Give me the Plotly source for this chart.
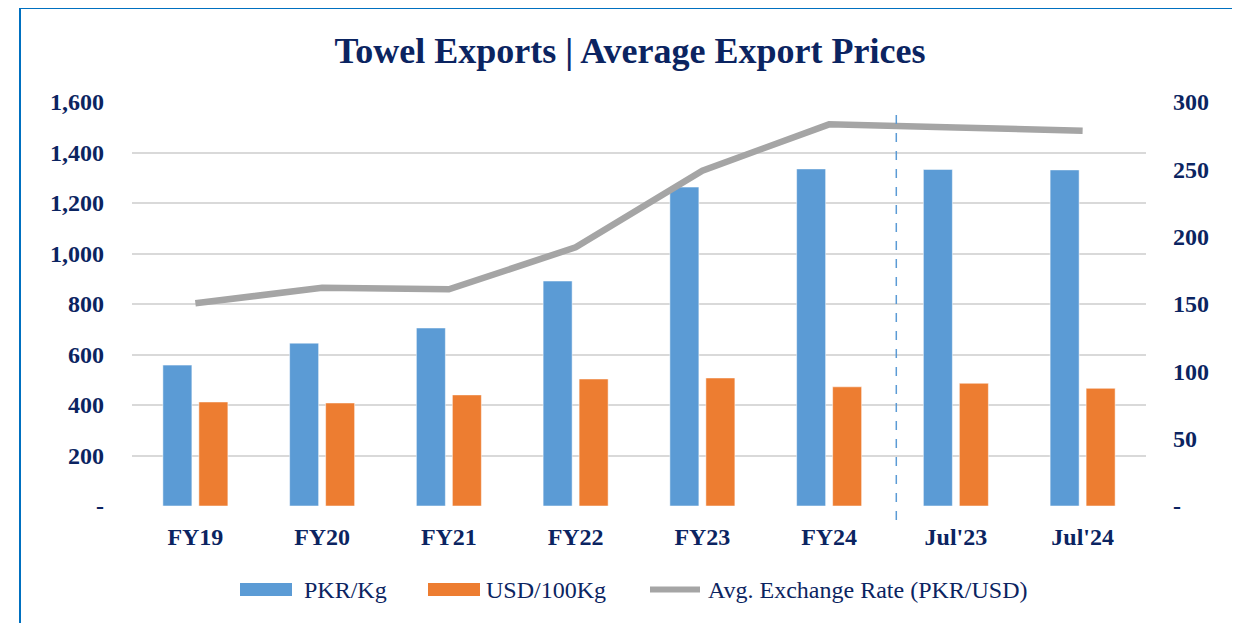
import plotly.graph_objects as go

categories = ["FY19", "FY20", "FY21", "FY22", "FY23", "FY24", "Jul'23", "Jul'24"]
pkr_per_kg = [558, 645, 705, 891, 1263, 1335, 1333, 1331]
usd_per_100kg = [412, 408, 440, 503, 507, 472, 486, 466]
exchange_rate = [150.5, 162.1, 160.9, 192.1, 249.0, 283.4, 281.1, 278.7]

left_ticks = [0, 200, 400, 600, 800, 1000, 1200, 1400, 1600]
left_ticktext = ["-", "200", "400", "600", "800", "1,000", "1,200", "1,400", "1,600"]
right_ticks = [0, 50, 100, 150, 200, 250, 300]
right_ticktext = ["-", "50", "100", "150", "200", "250", "300"]

NAVY = "#0B2461"
BLUE = "#5B9BD5"
ORANGE = "#ED7D31"
GRAY = "#A5A5A5"
FONT = "Liberation Serif"

OFF = 8  # page body margin
W, H = 1232, 615
L, T = 132 - OFF, 102 - OFF
PW, PH = 1014, 404
R, B = W - L - PW, H - T - PH


def px(x):
    # screen pixel x -> paper x
    return (x - OFF - L) / PW


def py(y):
    # screen pixel y -> paper y
    return (T + PH - (y - OFF)) / PH


fig = go.Figure()
fig.add_trace(go.Bar(x=categories, y=pkr_per_kg, name="PKR/Kg",
                     marker=dict(color=BLUE, line=dict(color="rgba(255,255,255,0.5)", width=1))))
fig.add_trace(go.Bar(x=categories, y=usd_per_100kg, name="USD/100Kg",
                     marker=dict(color=ORANGE, line=dict(color="rgba(255,255,255,0.5)", width=1))))
fig.add_trace(go.Scatter(x=categories, y=exchange_rate, name="Avg. Exchange Rate (PKR/USD)",
                         mode="lines", yaxis="y2", line=dict(color=GRAY, width=6.5)))

shapes = []
# outer border
shapes.append(dict(type="rect", xref="paper", yref="paper",
                   x0=px(20), x1=px(1237), y0=py(640), y1=py(8),
                   line=dict(color="#0070C0", width=2), fillcolor="rgba(0,0,0,0)", layer="above"))
# dashed separator between annual and monthly data
shapes.append(dict(type="line", xref="x", yref="paper", x0=5.53, x1=5.53,
                   y0=py(520), y1=py(113), line=dict(color=BLUE, width=1.5, dash="dash")))
# custom legend
shapes.append(dict(type="rect", xref="paper", yref="paper", x0=px(240), x1=px(292),
                   y0=py(596), y1=py(583), fillcolor=BLUE, line=dict(width=0)))
shapes.append(dict(type="rect", xref="paper", yref="paper", x0=px(428), x1=px(480),
                   y0=py(596), y1=py(583), fillcolor=ORANGE, line=dict(width=0)))
shapes.append(dict(type="line", xref="paper", yref="paper", x0=px(650), x1=px(700),
                   y0=py(589.5), y1=py(589.5), line=dict(color=GRAY, width=6)))

annotations = []
for label, x in [("PKR/Kg", 302), ("USD/100Kg", 484), ("Avg. Exchange Rate (PKR/USD)", 706)]:
    annotations.append(dict(text=label, xref="paper", yref="paper", x=px(x), y=py(589.5),
                            xanchor="left", yanchor="middle", showarrow=False,
                            font=dict(family=FONT, size=24, color=NAVY)))

fig.update_layout(
    width=W, height=H,
    margin=dict(l=L, r=R, t=T, b=B),
    paper_bgcolor="white", plot_bgcolor="white",
    title=dict(text="<b>Towel Exports | Average Export Prices</b>", x=(630 - OFF) / W, xref="container",
               xanchor="center", y=1 - (50 - OFF) / H, yanchor="middle",
               font=dict(family=FONT, size=36, color=NAVY)),
    barmode="group", bargap=0.432, bargroupgap=0.194,
    showlegend=False,
    xaxis=dict(type="category", showgrid=False, showline=False, ticks="",
               tickfont=dict(family=FONT, size=24, color=NAVY, weight="bold"),
               ticklabelstandoff=14),
    yaxis=dict(range=[0, 1600], tickvals=left_ticks, ticktext=left_ticktext,
               showgrid=True, gridcolor="#D9D9D9", gridwidth=2, zeroline=False,
               showline=False, ticks="", ticklabelstandoff=27,
               tickfont=dict(family=FONT, size=24, color=NAVY, weight="bold")),
    yaxis2=dict(range=[0, 300], tickvals=right_ticks, ticktext=right_ticktext,
                overlaying="y", side="right", showgrid=False, zeroline=False,
                showline=False, ticks="", ticklabelstandoff=26,
                tickfont=dict(family=FONT, size=24, color=NAVY, weight="bold")),
    shapes=shapes, annotations=annotations,
)

fig.write_html("out.html")
